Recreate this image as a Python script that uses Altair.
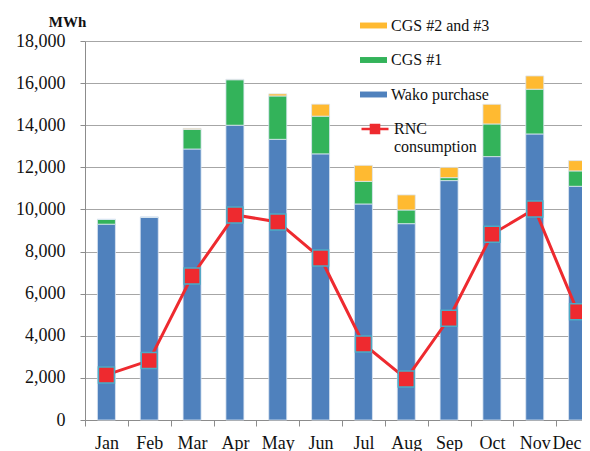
import altair as alt
import pandas as pd

months = ["Jan", "Feb", "Mar", "Apr", "May", "Jun", "Jul", "Aug", "Sep", "Oct", "Nov", "Dec"]
wako = [9300, 9620, 12870, 14000, 13330, 12640, 10260, 9325, 11370, 12510, 13585, 11100]
cgs1 = [230, 20, 930, 2160, 2060, 1790, 1075, 650, 140, 1550, 2125, 730]
cgs23 = [0, 0, 50, 20, 100, 570, 760, 715, 490, 935, 630, 490]
rnc = [2140, 2820, 6840, 9740, 9405, 7695, 3610, 1950, 4830, 8820, 10020, 5145]
series = ["CGS #2 and #3", "CGS #1", "Wako purchase"]
colors = ["#FFBA31", "#33B35A", "#4F81BD"]
line_name = "RNC consumption"
y_ticks = list(range(0, 18001, 2000))

rows = []
for i, m in enumerate(months):
    rows.append({"month": m, "series": "Wako purchase", "value": wako[i], "ord": 0})
    rows.append({"month": m, "series": "CGS #1", "value": cgs1[i], "ord": 1})
    rows.append({"month": m, "series": "CGS #2 and #3", "value": cgs23[i], "ord": 2})
bar_df = pd.DataFrame(rows)
line_df = pd.DataFrame({"month": months, "value": rnc, "series": [line_name] * len(months)})

FONT = "Liberation Serif"
GRAY = "#8C8C8C"

x_axis = alt.Axis(labelFont=FONT, labelFontSize=18, labelColor="#111111", labelAngle=0,
                  tickBand="extent", tickSize=6, tickColor=GRAY, domainColor=GRAY,
                  labelPadding=8, grid=False,
                  labelOffset={"condition": {"test": "datum.value === 'Dec'", "value": -11},
                               "value": 0})
x_scale = alt.Scale(paddingInner=0, paddingOuter=0)
y_axis = alt.Axis(values=y_ticks, labelExpr="format(datum.value, ',')", title="MWh",
                  titleAngle=0, titleX=-18, titleY=-20,
                  titleAlign="center", titleBaseline="middle", titleFont=FONT, titleFontSize=15,
                  titleFontWeight="bold", titleColor="#111111", labelFont=FONT, labelFontSize=18,
                  labelColor="#111111", labelPadding=15, tickSize=5, tickColor=GRAY,
                  domainColor=GRAY, gridColor="#A6A6A6")
y_scale = alt.Scale(domain=[0, 18000], nice=False)


def xe():
    return alt.X("month:N", sort=months, title=None, scale=x_scale, axis=x_axis)


bars = alt.Chart(bar_df).mark_bar(size=18, stroke="#DCE6F2", strokeWidth=0.8).encode(
    x=xe(),
    y=alt.Y("value:Q", stack="zero", scale=y_scale, axis=y_axis),
    color=alt.Color("series:N", scale=alt.Scale(domain=series, range=colors),
                    legend=alt.Legend(title=None, orient="none", legendX=275, legendY=-29,
                                      symbolType="M-1,-0.22H1V0.22H-1Z", symbolSize=729,
                                      symbolStrokeWidth=0, labelFont=FONT, labelFontSize=16,
                                      labelColor="#111111", labelOffset=4, rowPadding=12.5,
                                      padding=0, labelLimit=300)),
    order=alt.Order("ord:Q", sort="ascending"),
)

line = alt.Chart(line_df).mark_line(strokeWidth=3).encode(
    x=xe(),
    y=alt.Y("value:Q", scale=y_scale, axis=y_axis),
    color=alt.Color("series:N", scale=alt.Scale(domain=[line_name], range=["#EE2A2F"]),
                    legend=alt.Legend(title=None, orient="none", legendX=275, legendY=73,
                                      symbolType="M-1,0H1M-0.3,-0.3H0.3V0.3H-0.3Z",
                                      symbolSize=729, symbolStrokeWidth=2.5,
                                      symbolFillColor="#EE2A2F", symbolStrokeColor="#EE2A2F",
                                      labelExpr="['RNC', 'consumption']",
                                      labelFont=FONT, labelFontSize=16, labelColor="#111111",
                                      labelOffset=4, padding=0, labelLimit=300)),
)

pts = alt.Chart(line_df).mark_square(size=256, filled=True, fill="#EE2A2F", stroke="#4BACC6",
                                     strokeWidth=1.5, opacity=1).encode(
    x=xe(),
    y=alt.Y("value:Q", scale=y_scale, axis=y_axis),
)

chart = alt.layer(bars, line, pts).resolve_scale(color="independent").properties(
    width=514, height=379,
    padding={"left": 77, "top": 33, "right": -17, "bottom": 31},
    autosize=alt.AutoSizeParams(type="none"),
    background="white",
).configure_view(stroke=None)

chart.save("out.html", embed_options={"renderer": "svg", "actions": False})
